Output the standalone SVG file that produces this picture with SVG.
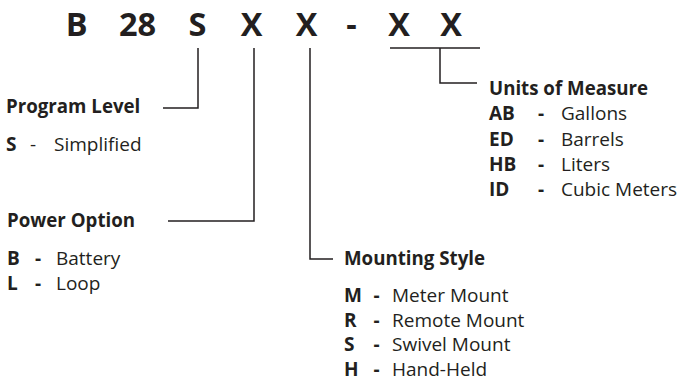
<svg xmlns="http://www.w3.org/2000/svg" width="680" height="382" viewBox="0 0 680 382">
<style>
text{font-family:"Open Sans","Noto Sans","Liberation Sans",sans-serif;fill:#231f20}
.code{font-size:32.5px;font-weight:700;text-anchor:middle}
.h{font-size:18.7px;font-weight:700}
.k{font-size:19px;font-weight:700}
.v{font-size:19px;font-weight:400}
.d{font-size:19px;font-weight:400;text-anchor:middle}
.db{font-size:19px;font-weight:700;text-anchor:middle}
.c line,.c polyline{stroke:#231f20;stroke-width:1.5;fill:none}
</style>
<rect width="680" height="382" fill="#fff"/>
<g id="code">
<text class="code" x="76.7" y="36">B</text>
<text class="code" x="137.5" y="36">28</text>
<text class="code" x="197.5" y="36">S</text>
<text class="code" x="251.5" y="36">X</text>
<text class="code" x="306.5" y="36">X</text>
<text class="code" x="351.5" y="36">-</text>
<text class="code" x="399" y="36">X</text>
<text class="code" x="451" y="36">X</text>
</g>
<g class="c" id="connectors">
<polyline points="198,48 198,108 163,108"/>
<polyline points="254,48 254,221 168,221"/>
<polyline points="310,48 310,259 333,259"/>
<line x1="390" y1="48" x2="480" y2="48"/>
<polyline points="440,48 440,83 477,83"/>
</g>
<g id="program-level">
<text class="h" x="6" y="113">Program Level</text>
<text class="k" x="6" y="151">S</text><text class="d" x="33" y="151">-</text><text class="v" x="54" y="151">Simplified</text>
</g>
<g id="power-option">
<text class="h" x="7" y="227">Power Option</text>
<text class="k" x="7" y="265">B</text><text class="db" x="38" y="265">-</text><text class="v" x="56" y="265">Battery</text>
<text class="k" x="7" y="290">L</text><text class="db" x="38" y="290">-</text><text class="v" x="56" y="290">Loop</text>
</g>
<g id="mounting-style">
<text class="h" x="344" y="265">Mounting Style</text>
<text class="k" x="344" y="302">M</text><text class="db" x="376.5" y="302">-</text><text class="v" x="392" y="302">Meter Mount</text>
<text class="k" x="344" y="326.5">R</text><text class="db" x="376.5" y="326.5">-</text><text class="v" x="392" y="326.5">Remote Mount</text>
<text class="k" x="344" y="351">S</text><text class="db" x="376.5" y="351">-</text><text class="v" x="392" y="351">Swivel Mount</text>
<text class="k" x="344" y="376">H</text><text class="db" x="376.5" y="376">-</text><text class="v" x="392" y="376">Hand-Held</text>
</g>
<g id="units-of-measure">
<text class="h" x="489" y="95">Units of Measure</text>
<text class="k" x="489" y="120">AB</text><text class="db" x="541" y="120">-</text><text class="v" x="561" y="120">Gallons</text>
<text class="k" x="489" y="145.5">ED</text><text class="db" x="541" y="145.5">-</text><text class="v" x="561" y="145.5">Barrels</text>
<text class="k" x="489" y="171">HB</text><text class="db" x="541" y="171">-</text><text class="v" x="561" y="171">Liters</text>
<text class="k" x="489" y="196">ID</text><text class="db" x="541" y="196">-</text><text class="v" x="561" y="196">Cubic Meters</text>
</g>
</svg>
